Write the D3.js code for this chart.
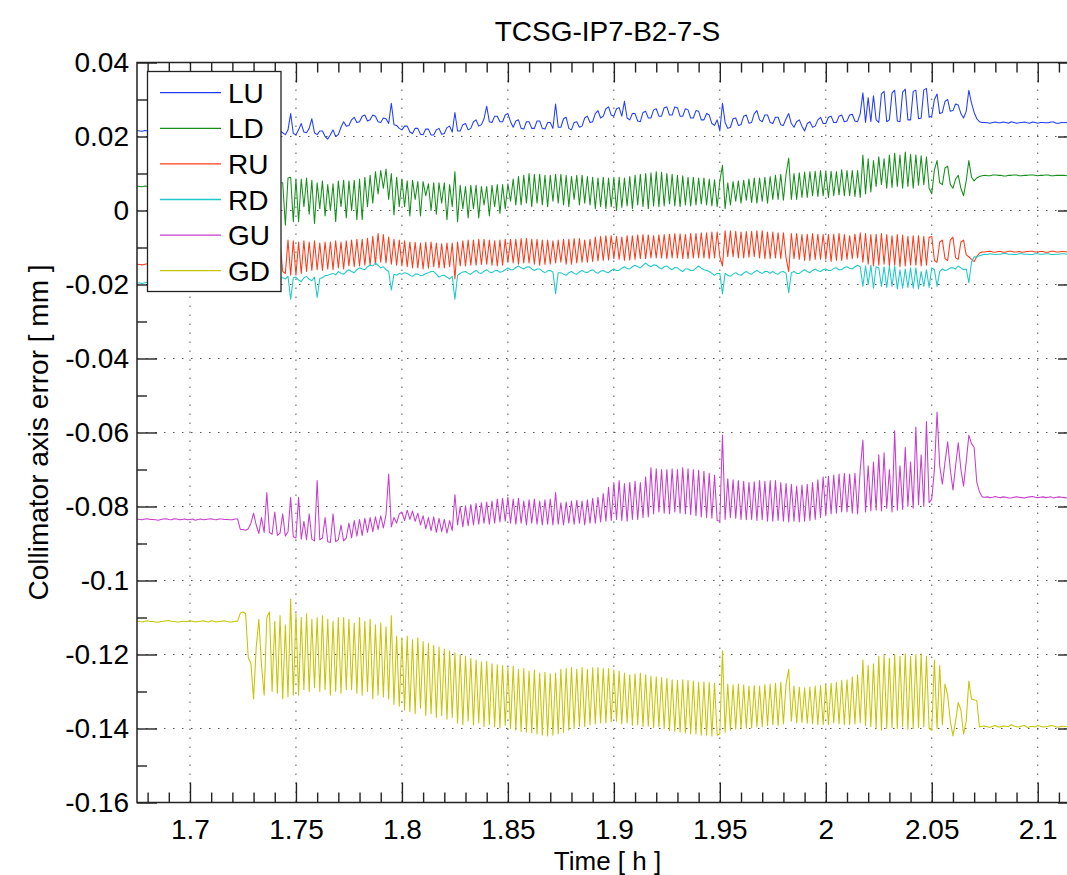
<!DOCTYPE html>
<html><head><meta charset="utf-8">
<script src="https://cdn.jsdelivr.net/npm/d3@7"></script>
<style>body{margin:0;background:#fff;overflow:hidden} text{font-family:"Liberation Sans",Arial,Helvetica,sans-serif}</style>
</head><body><svg id="c" width="1067" height="875"></svg>
<script>
const title = "TCSG-IP7-B2-7-S";
const xLabel = "Time [ h ]";
const yLabel = "Collimator axis error [ mm ]";
const seriesNames = ["LU","LD","RU","RD","GU","GD"];
const seriesColors = ["#1f3cff","#14901a","#ff3a18","#1ec8c8","#c83ccd","#c8c400"];
// regular sampling grid of the readings (hours)
const sampleStart = 1.675, sampleStep = 0.00125;

const LU = [
0.0216,0.0215,0.0214,0.0216,0.0215,0.0214,0.0217,0.0215,0.0214,0.0216,0.0216,0.0214,0.0215,0.0216,0.0214,0.0215,0.0216,0.0214,0.0215,0.0216,
0.0215,0.0214,0.0216,0.0215,0.0214,0.0216,0.0215,0.0214,0.0216,0.0215,0.0214,0.0216,0.0215,0.0214,0.0216,0.0215,0.0215,0.0214,0.0214,0.0216,
0.0210,0.0218,0.0225,0.0212,0.0205,0.0220,0.0230,0.0210,0.0208,0.0222,0.0222,0.0208,0.0205,0.0218,0.0215,0.0210,0.0205,0.0218,0.0262,0.0208,
0.0205,0.0218,0.0235,0.0212,0.0210,0.0222,0.0248,0.0210,0.0205,0.0215,0.0215,0.0200,0.0193,0.0205,0.0218,0.0200,0.0205,0.0225,0.0240,0.0228,
0.0230,0.0245,0.0252,0.0238,0.0240,0.0255,0.0258,0.0242,0.0245,0.0258,0.0255,0.0240,0.0238,0.0250,0.0248,0.0235,0.0290,0.0232,0.0230,0.0222,
0.0218,0.0228,0.0228,0.0212,0.0208,0.0222,0.0222,0.0206,0.0205,0.0220,0.0220,0.0204,0.0204,0.0218,0.0222,0.0206,0.0208,0.0224,0.0228,0.0212,
0.0265,0.0215,0.0215,0.0232,0.0235,0.0218,0.0222,0.0240,0.0245,0.0228,0.0232,0.0248,0.0282,0.0240,0.0238,0.0255,0.0255,0.0240,0.0240,0.0258,
0.0262,0.0240,0.0225,0.0242,0.0245,0.0222,0.0220,0.0240,0.0240,0.0222,0.0222,0.0242,0.0242,0.0222,0.0220,0.0238,0.0238,0.0222,0.0288,0.0225,
0.0225,0.0248,0.0252,0.0222,0.0218,0.0238,0.0240,0.0225,0.0228,0.0250,0.0255,0.0238,0.0240,0.0262,0.0270,0.0250,0.0255,0.0275,0.0280,0.0258,
0.0255,0.0275,0.0278,0.0255,0.0295,0.0250,0.0245,0.0262,0.0262,0.0242,0.0240,0.0265,0.0268,0.0250,0.0250,0.0272,0.0275,0.0255,0.0255,0.0278,
0.0280,0.0258,0.0258,0.0280,0.0278,0.0255,0.0255,0.0275,0.0272,0.0250,0.0250,0.0270,0.0268,0.0245,0.0245,0.0262,0.0258,0.0235,0.0230,0.0245,
0.0215,0.0290,0.0238,0.0222,0.0225,0.0248,0.0250,0.0230,0.0232,0.0255,0.0258,0.0236,0.0238,0.0262,0.0270,0.0245,0.0240,0.0258,0.0258,0.0238,
0.0235,0.0252,0.0252,0.0232,0.0230,0.0248,0.0262,0.0235,0.0225,0.0240,0.0245,0.0228,0.0215,0.0235,0.0240,0.0225,0.0228,0.0245,0.0252,0.0235,
0.0235,0.0252,0.0255,0.0238,0.0238,0.0255,0.0258,0.0240,0.0242,0.0258,0.0260,0.0242,0.0240,0.0262,0.0318,0.0238,0.0305,0.0240,0.0310,0.0245,
0.0238,0.0315,0.0322,0.0240,0.0245,0.0318,0.0325,0.0242,0.0240,0.0320,0.0328,0.0245,0.0245,0.0322,0.0325,0.0248,0.0250,0.0326,0.0330,0.0252,
0.0255,0.0300,0.0315,0.0262,0.0265,0.0295,0.0300,0.0268,0.0270,0.0288,0.0285,0.0262,0.0250,0.0268,0.0325,0.0290,0.0265,0.0248,0.0240,0.0238,
0.0238,0.0237,0.0236,0.0238,0.0239,0.0237,0.0237,0.0239,0.0238,0.0236,0.0240,0.0238,0.0236,0.0237,0.0238,0.0239,0.0237,0.0236,0.0239,0.0238,
0.0236,0.0238,0.0238,0.0237,0.0237,0.0239,0.0239,0.0236,0.0236,0.0238,0.0238,0.0237,0.0237,0.0238,0.0238,0.0237];

const LD = [
0.0066,0.0065,0.0064,0.0066,0.0065,0.0064,0.0067,0.0065,0.0064,0.0066,0.0066,0.0064,0.0065,0.0066,0.0064,0.0065,0.0066,0.0064,0.0065,0.0066,
0.0065,0.0064,0.0066,0.0065,0.0064,0.0066,0.0065,0.0064,0.0066,0.0065,0.0065,0.0066,0.0064,0.0065,0.0066,0.0064,0.0065,0.0066,0.0064,0.0065,
0.0060,0.0020,0.0080,0.0000,0.0010,0.0080,0.0085,0.0000,0.0000,0.0080,0.0080,-0.0010,-0.0010,0.0075,0.0075,0.0075,-0.0040,0.0088,0.0090,-0.0030,
0.0085,-0.0030,0.0085,0.0010,0.0088,-0.0010,0.0082,-0.0035,0.0075,0.0005,0.0080,-0.0015,0.0070,0.0000,0.0072,-0.0030,0.0080,0.0010,0.0082,-0.0020,
0.0080,0.0000,0.0082,-0.0025,0.0085,-0.0025,0.0090,0.0010,0.0095,0.0020,0.0105,0.0045,0.0108,0.0060,0.0112,0.0030,0.0100,-0.0012,0.0090,0.0010,
0.0085,0.0010,0.0080,-0.0015,0.0082,0.0030,0.0078,-0.0015,0.0078,0.0040,0.0072,0.0000,0.0075,-0.0010,0.0075,0.0020,0.0075,-0.0025,0.0070,0.0010,
0.0105,-0.0030,0.0068,0.0005,0.0065,-0.0020,0.0068,0.0005,0.0068,-0.0020,0.0065,0.0015,0.0065,-0.0015,0.0068,0.0010,0.0070,-0.0008,0.0070,0.0005,
0.0072,0.0025,0.0085,0.0015,0.0092,0.0015,0.0095,0.0020,0.0100,0.0010,0.0098,0.0020,0.0098,0.0015,0.0095,0.0010,0.0095,0.0025,0.0098,0.0020,
0.0098,0.0015,0.0095,0.0010,0.0092,0.0030,0.0095,0.0015,0.0095,0.0020,0.0092,0.0015,0.0090,0.0005,0.0088,0.0010,0.0090,0.0005,0.0088,0.0010,
0.0090,0.0000,0.0090,0.0008,0.0088,0.0012,0.0092,0.0005,0.0095,0.0015,0.0098,0.0010,0.0100,0.0005,0.0102,0.0012,0.0105,0.0010,0.0103,0.0012,
0.0100,0.0018,0.0098,0.0012,0.0095,0.0010,0.0094,0.0015,0.0090,0.0012,0.0090,0.0015,0.0088,0.0018,0.0088,0.0015,0.0085,0.0012,0.0083,0.0010,
0.0080,0.0122,0.0005,0.0075,0.0015,0.0078,0.0025,0.0080,0.0020,0.0082,0.0028,0.0085,0.0022,0.0088,0.0020,0.0088,0.0025,0.0090,0.0020,0.0092,
0.0030,0.0095,0.0030,0.0098,0.0028,0.0098,0.0142,0.0030,0.0100,0.0030,0.0102,0.0035,0.0104,0.0035,0.0105,0.0040,0.0106,0.0038,0.0108,0.0040,
0.0105,0.0035,0.0106,0.0040,0.0105,0.0042,0.0110,0.0040,0.0108,0.0040,0.0108,0.0038,0.0108,0.0035,0.0150,0.0045,0.0140,0.0050,0.0135,0.0065,
0.0145,0.0070,0.0140,0.0060,0.0150,0.0062,0.0155,0.0065,0.0150,0.0060,0.0158,0.0065,0.0152,0.0060,0.0150,0.0068,0.0148,0.0070,0.0145,0.0060,
0.0045,0.0110,0.0135,0.0075,0.0070,0.0115,0.0120,0.0070,0.0060,0.0085,0.0095,0.0060,0.0040,0.0080,0.0135,0.0090,0.0080,0.0088,0.0092,0.0094,
0.0095,0.0094,0.0094,0.0096,0.0096,0.0095,0.0095,0.0093,0.0093,0.0095,0.0095,0.0096,0.0096,0.0094,0.0094,0.0095,0.0095,0.0096,0.0096,0.0095,
0.0094,0.0095,0.0095,0.0096,0.0096,0.0094,0.0094,0.0095,0.0095,0.0095,0.0095,0.0094,0.0094,0.0096,0.0096,0.0095];

const RU = [
-0.0145,-0.0146,-0.0147,-0.0145,-0.0144,-0.0146,-0.0146,-0.0145,-0.0145,-0.0147,-0.0147,-0.0145,-0.0144,-0.0146,-0.0145,-0.0144,-0.0146,-0.0145,-0.0145,-0.0146,
-0.0144,-0.0145,-0.0146,-0.0145,-0.0145,-0.0147,-0.0147,-0.0145,-0.0145,-0.0144,-0.0144,-0.0146,-0.0146,-0.0145,-0.0145,-0.0147,-0.0147,-0.0146,-0.0145,-0.0145,
-0.0120,-0.0160,-0.0090,-0.0165,-0.0085,-0.0170,-0.0080,-0.0165,-0.0090,-0.0170,-0.0080,-0.0172,-0.0082,-0.0170,-0.0085,-0.0165,-0.0170,-0.0080,-0.0175,-0.0082,
-0.0175,-0.0085,-0.0170,-0.0082,-0.0165,-0.0085,-0.0162,-0.0082,-0.0160,-0.0088,-0.0162,-0.0085,-0.0158,-0.0085,-0.0160,-0.0082,-0.0155,-0.0085,-0.0158,-0.0082,
-0.0150,-0.0080,-0.0152,-0.0078,-0.0150,-0.0078,-0.0148,-0.0075,-0.0148,-0.0070,-0.0145,-0.0062,-0.0140,-0.0065,-0.0142,-0.0072,-0.0145,-0.0078,-0.0148,-0.0080,
-0.0150,-0.0082,-0.0152,-0.0085,-0.0155,-0.0086,-0.0155,-0.0088,-0.0158,-0.0086,-0.0156,-0.0085,-0.0152,-0.0088,-0.0155,-0.0090,-0.0155,-0.0088,-0.0152,-0.0088,
-0.0185,-0.0085,-0.0150,-0.0082,-0.0150,-0.0080,-0.0148,-0.0080,-0.0148,-0.0078,-0.0146,-0.0078,-0.0145,-0.0080,-0.0148,-0.0082,-0.0150,-0.0080,-0.0148,-0.0078,
-0.0140,-0.0078,-0.0142,-0.0078,-0.0145,-0.0076,-0.0142,-0.0075,-0.0142,-0.0078,-0.0145,-0.0078,-0.0148,-0.0080,-0.0146,-0.0080,-0.0145,-0.0082,-0.0142,-0.0080,
-0.0140,-0.0078,-0.0145,-0.0078,-0.0145,-0.0076,-0.0142,-0.0076,-0.0140,-0.0080,-0.0140,-0.0078,-0.0138,-0.0072,-0.0136,-0.0070,-0.0135,-0.0068,-0.0134,-0.0068,
-0.0130,-0.0070,-0.0132,-0.0072,-0.0135,-0.0068,-0.0134,-0.0068,-0.0132,-0.0066,-0.0130,-0.0065,-0.0130,-0.0066,-0.0128,-0.0068,-0.0128,-0.0066,-0.0128,-0.0065,
-0.0130,-0.0064,-0.0128,-0.0062,-0.0128,-0.0063,-0.0130,-0.0065,-0.0130,-0.0062,-0.0128,-0.0062,-0.0128,-0.0060,-0.0128,-0.0060,-0.0130,-0.0058,-0.0128,-0.0058,
-0.0125,-0.0150,-0.0055,-0.0125,-0.0055,-0.0125,-0.0056,-0.0128,-0.0058,-0.0128,-0.0057,-0.0126,-0.0056,-0.0125,-0.0055,-0.0128,-0.0055,-0.0130,-0.0058,-0.0130,
-0.0058,-0.0128,-0.0060,-0.0130,-0.0060,-0.0128,-0.0165,-0.0062,-0.0130,-0.0062,-0.0132,-0.0065,-0.0135,-0.0064,-0.0135,-0.0062,-0.0132,-0.0064,-0.0132,-0.0065,
-0.0132,-0.0065,-0.0138,-0.0064,-0.0135,-0.0062,-0.0135,-0.0065,-0.0132,-0.0068,-0.0130,-0.0064,-0.0128,-0.0060,-0.0140,-0.0062,-0.0145,-0.0065,-0.0150,-0.0064,
-0.0148,-0.0062,-0.0145,-0.0065,-0.0150,-0.0068,-0.0148,-0.0065,-0.0152,-0.0066,-0.0150,-0.0070,-0.0148,-0.0068,-0.0148,-0.0068,-0.0150,-0.0070,-0.0148,-0.0072,
-0.0070,-0.0135,-0.0140,-0.0085,-0.0080,-0.0130,-0.0135,-0.0080,-0.0072,-0.0128,-0.0132,-0.0085,-0.0080,-0.0120,-0.0125,-0.0132,-0.0138,-0.0125,-0.0115,-0.0112,
-0.0112,-0.0111,-0.0110,-0.0112,-0.0113,-0.0111,-0.0111,-0.0113,-0.0112,-0.0110,-0.0110,-0.0112,-0.0112,-0.0111,-0.0113,-0.0112,-0.0111,-0.0110,-0.0110,-0.0112,
-0.0112,-0.0111,-0.0111,-0.0113,-0.0113,-0.0110,-0.0110,-0.0112,-0.0112,-0.0111,-0.0111,-0.0112,-0.0112,-0.0111,-0.0111,-0.0110];

const RD = [
-0.0195,-0.0196,-0.0197,-0.0195,-0.0194,-0.0196,-0.0196,-0.0195,-0.0195,-0.0197,-0.0197,-0.0195,-0.0194,-0.0196,-0.0195,-0.0194,-0.0196,-0.0195,-0.0195,-0.0196,
-0.0194,-0.0195,-0.0196,-0.0195,-0.0195,-0.0197,-0.0197,-0.0195,-0.0195,-0.0194,-0.0194,-0.0196,-0.0196,-0.0195,-0.0195,-0.0197,-0.0197,-0.0196,-0.0195,-0.0195,
-0.0190,-0.0186,-0.0185,-0.0190,-0.0195,-0.0188,-0.0180,-0.0186,-0.0192,-0.0185,-0.0185,-0.0190,-0.0190,-0.0184,-0.0182,-0.0182,-0.0185,-0.0178,-0.0240,-0.0182,
-0.0180,-0.0188,-0.0192,-0.0182,-0.0178,-0.0186,-0.0190,-0.0180,-0.0235,-0.0184,-0.0182,-0.0176,-0.0175,-0.0172,-0.0170,-0.0174,-0.0165,-0.0170,-0.0172,-0.0165,
-0.0160,-0.0165,-0.0168,-0.0160,-0.0155,-0.0158,-0.0160,-0.0152,-0.0148,-0.0150,-0.0142,-0.0148,-0.0155,-0.0152,-0.0160,-0.0165,-0.0215,-0.0172,-0.0175,-0.0170,
-0.0172,-0.0168,-0.0170,-0.0175,-0.0178,-0.0172,-0.0172,-0.0176,-0.0175,-0.0170,-0.0168,-0.0165,-0.0165,-0.0172,-0.0180,-0.0176,-0.0175,-0.0180,-0.0185,-0.0178,
-0.0240,-0.0175,-0.0170,-0.0166,-0.0165,-0.0170,-0.0172,-0.0166,-0.0162,-0.0168,-0.0170,-0.0164,-0.0160,-0.0166,-0.0168,-0.0163,-0.0162,-0.0167,-0.0165,-0.0160,
-0.0155,-0.0160,-0.0160,-0.0154,-0.0150,-0.0155,-0.0158,-0.0153,-0.0152,-0.0158,-0.0162,-0.0158,-0.0158,-0.0164,-0.0168,-0.0163,-0.0162,-0.0166,-0.0225,-0.0168,
-0.0168,-0.0172,-0.0175,-0.0168,-0.0165,-0.0170,-0.0172,-0.0166,-0.0162,-0.0166,-0.0168,-0.0163,-0.0160,-0.0166,-0.0170,-0.0164,-0.0162,-0.0166,-0.0168,-0.0162,
-0.0158,-0.0162,-0.0162,-0.0156,-0.0152,-0.0157,-0.0158,-0.0152,-0.0148,-0.0152,-0.0155,-0.0148,-0.0142,-0.0148,-0.0152,-0.0147,-0.0148,-0.0154,-0.0158,-0.0152,
-0.0150,-0.0156,-0.0160,-0.0154,-0.0155,-0.0161,-0.0165,-0.0158,-0.0158,-0.0162,-0.0162,-0.0156,-0.0150,-0.0156,-0.0160,-0.0162,-0.0165,-0.0170,-0.0175,-0.0170,
-0.0170,-0.0225,-0.0170,-0.0175,-0.0178,-0.0172,-0.0168,-0.0173,-0.0175,-0.0169,-0.0165,-0.0170,-0.0172,-0.0166,-0.0162,-0.0167,-0.0170,-0.0165,-0.0165,-0.0170,
-0.0165,-0.0170,-0.0172,-0.0166,-0.0165,-0.0170,-0.0222,-0.0168,-0.0165,-0.0170,-0.0170,-0.0164,-0.0160,-0.0165,-0.0168,-0.0162,-0.0158,-0.0163,-0.0165,-0.0160,
-0.0158,-0.0162,-0.0162,-0.0157,-0.0155,-0.0160,-0.0160,-0.0154,-0.0152,-0.0156,-0.0158,-0.0152,-0.0148,-0.0152,-0.0205,-0.0150,-0.0200,-0.0148,-0.0210,-0.0152,
-0.0155,-0.0205,-0.0152,-0.0208,-0.0150,-0.0205,-0.0150,-0.0212,-0.0160,-0.0210,-0.0158,-0.0208,-0.0155,-0.0210,-0.0155,-0.0212,-0.0165,-0.0205,-0.0160,-0.0208,
-0.0155,-0.0160,-0.0205,-0.0165,-0.0158,-0.0162,-0.0160,-0.0155,-0.0155,-0.0158,-0.0150,-0.0155,-0.0160,-0.0158,-0.0195,-0.0140,-0.0125,-0.0126,-0.0122,-0.0120,
-0.0118,-0.0119,-0.0117,-0.0118,-0.0119,-0.0118,-0.0118,-0.0116,-0.0116,-0.0118,-0.0118,-0.0119,-0.0119,-0.0117,-0.0117,-0.0118,-0.0118,-0.0119,-0.0119,-0.0117,
-0.0117,-0.0118,-0.0118,-0.0117,-0.0117,-0.0119,-0.0119,-0.0118,-0.0118,-0.0117,-0.0117,-0.0118,-0.0118,-0.0117,-0.0117,-0.0119];

const GU = [
-0.0834,-0.0835,-0.0836,-0.0834,-0.0833,-0.0835,-0.0835,-0.0836,-0.0837,-0.0835,-0.0834,-0.0833,-0.0835,-0.0836,-0.0833,-0.0834,-0.0836,-0.0835,-0.0834,-0.0836,
-0.0835,-0.0834,-0.0837,-0.0835,-0.0834,-0.0836,-0.0835,-0.0834,-0.0833,-0.0835,-0.0836,-0.0834,-0.0834,-0.0835,-0.0835,-0.0836,-0.0836,-0.0834,-0.0834,-0.0862,
-0.0862,-0.0864,-0.0860,-0.0845,-0.0818,-0.0850,-0.0873,-0.0830,-0.0870,-0.0762,-0.0870,-0.0875,-0.0815,-0.0878,-0.0872,-0.0820,-0.0880,-0.0868,-0.0775,-0.0882,
-0.0885,-0.0775,-0.0888,-0.0840,-0.0890,-0.0820,-0.0888,-0.0893,-0.0730,-0.0890,-0.0885,-0.0830,-0.0895,-0.0897,-0.0820,-0.0895,-0.0890,-0.0850,-0.0893,-0.0885,
-0.0845,-0.0885,-0.0838,-0.0880,-0.0835,-0.0878,-0.0832,-0.0870,-0.0830,-0.0868,-0.0828,-0.0862,-0.0825,-0.0858,-0.0822,-0.0712,-0.0855,-0.0830,-0.0845,-0.0820,
-0.0815,-0.0838,-0.0810,-0.0835,-0.0812,-0.0840,-0.0818,-0.0850,-0.0825,-0.0860,-0.0830,-0.0865,-0.0828,-0.0870,-0.0832,-0.0868,-0.0835,-0.0872,-0.0838,-0.0865,
-0.0768,-0.0850,-0.0800,-0.0855,-0.0798,-0.0852,-0.0795,-0.0850,-0.0792,-0.0848,-0.0790,-0.0845,-0.0788,-0.0848,-0.0785,-0.0845,-0.0780,-0.0842,-0.0778,-0.0840,
-0.0775,-0.0845,-0.0780,-0.0848,-0.0778,-0.0845,-0.0785,-0.0850,-0.0782,-0.0845,-0.0780,-0.0848,-0.0785,-0.0850,-0.0782,-0.0848,-0.0780,-0.0850,-0.0762,-0.0848,
-0.0790,-0.0850,-0.0788,-0.0845,-0.0785,-0.0848,-0.0783,-0.0845,-0.0785,-0.0850,-0.0782,-0.0845,-0.0778,-0.0845,-0.0775,-0.0842,-0.0765,-0.0840,-0.0748,-0.0838,
-0.0735,-0.0835,-0.0730,-0.0838,-0.0738,-0.0840,-0.0735,-0.0835,-0.0732,-0.0835,-0.0735,-0.0830,-0.0720,-0.0828,-0.0695,-0.0820,-0.0698,-0.0815,-0.0700,-0.0818,
-0.0700,-0.0820,-0.0698,-0.0815,-0.0700,-0.0818,-0.0695,-0.0820,-0.0698,-0.0822,-0.0700,-0.0825,-0.0702,-0.0828,-0.0705,-0.0830,-0.0710,-0.0832,-0.0715,-0.0838,
-0.0840,-0.0607,-0.0835,-0.0725,-0.0830,-0.0728,-0.0832,-0.0730,-0.0835,-0.0732,-0.0836,-0.0735,-0.0835,-0.0733,-0.0838,-0.0730,-0.0836,-0.0732,-0.0840,-0.0730,
-0.0840,-0.0730,-0.0838,-0.0735,-0.0840,-0.0738,-0.0842,-0.0740,-0.0840,-0.0745,-0.0842,-0.0742,-0.0840,-0.0740,-0.0838,-0.0735,-0.0835,-0.0728,-0.0830,-0.0720,
-0.0825,-0.0718,-0.0820,-0.0715,-0.0818,-0.0712,-0.0815,-0.0710,-0.0815,-0.0712,-0.0818,-0.0710,-0.0820,-0.0700,-0.0620,-0.0815,-0.0690,-0.0812,-0.0680,-0.0810,
-0.0660,-0.0812,-0.0655,-0.0805,-0.0700,-0.0815,-0.0595,-0.0810,-0.0690,-0.0808,-0.0640,-0.0800,-0.0680,-0.0805,-0.0585,-0.0795,-0.0660,-0.0800,-0.0570,-0.0790,
-0.0780,-0.0700,-0.0545,-0.0690,-0.0740,-0.0680,-0.0625,-0.0700,-0.0755,-0.0690,-0.0628,-0.0700,-0.0745,-0.0680,-0.0607,-0.0630,-0.0640,-0.0735,-0.0760,-0.0774,
-0.0775,-0.0774,-0.0776,-0.0775,-0.0773,-0.0775,-0.0776,-0.0774,-0.0775,-0.0777,-0.0777,-0.0775,-0.0774,-0.0775,-0.0776,-0.0777,-0.0775,-0.0774,-0.0773,-0.0775,
-0.0776,-0.0775,-0.0774,-0.0776,-0.0775,-0.0774,-0.0777,-0.0775,-0.0774,-0.0775,-0.0776,-0.0777,-0.0775,-0.0776,-0.0774,-0.0775];

const GD = [
-0.1110,-0.1111,-0.1112,-0.1110,-0.1109,-0.1111,-0.1111,-0.1112,-0.1113,-0.1111,-0.1110,-0.1109,-0.1108,-0.1110,-0.1111,-0.1112,-0.1112,-0.1110,-0.1110,-0.1111,
-0.1109,-0.1110,-0.1112,-0.1111,-0.1110,-0.1109,-0.1111,-0.1112,-0.1109,-0.1110,-0.1112,-0.1111,-0.1110,-0.1109,-0.1111,-0.1112,-0.1112,-0.1110,-0.1110,-0.1088,
-0.1085,-0.1090,-0.1208,-0.1225,-0.1320,-0.1180,-0.1105,-0.1230,-0.1310,-0.1100,-0.1085,-0.1300,-0.1110,-0.1305,-0.1095,-0.1320,-0.1120,-0.1315,-0.1050,-0.1310,
-0.1090,-0.1310,-0.1100,-0.1295,-0.1090,-0.1300,-0.1105,-0.1290,-0.1100,-0.1300,-0.1095,-0.1295,-0.1105,-0.1310,-0.1110,-0.1300,-0.1100,-0.1305,-0.1100,-0.1295,
-0.1105,-0.1295,-0.1115,-0.1305,-0.1100,-0.1310,-0.1110,-0.1300,-0.1105,-0.1320,-0.1120,-0.1310,-0.1115,-0.1315,-0.1125,-0.1320,-0.1095,-0.1335,-0.1150,-0.1340,
-0.1155,-0.1350,-0.1150,-0.1355,-0.1160,-0.1360,-0.1155,-0.1345,-0.1165,-0.1365,-0.1170,-0.1360,-0.1175,-0.1370,-0.1180,-0.1365,-0.1185,-0.1375,-0.1190,-0.1370,
-0.1195,-0.1385,-0.1200,-0.1390,-0.1205,-0.1380,-0.1210,-0.1390,-0.1215,-0.1385,-0.1220,-0.1395,-0.1218,-0.1390,-0.1225,-0.1395,-0.1228,-0.1398,-0.1230,-0.1392,
-0.1235,-0.1400,-0.1232,-0.1405,-0.1240,-0.1408,-0.1238,-0.1410,-0.1245,-0.1412,-0.1242,-0.1415,-0.1250,-0.1418,-0.1248,-0.1420,-0.1252,-0.1418,-0.1250,-0.1415,
-0.1240,-0.1410,-0.1238,-0.1405,-0.1235,-0.1400,-0.1240,-0.1395,-0.1235,-0.1395,-0.1240,-0.1390,-0.1236,-0.1388,-0.1235,-0.1385,-0.1238,-0.1385,-0.1238,-0.1382,
-0.1242,-0.1380,-0.1245,-0.1388,-0.1250,-0.1385,-0.1255,-0.1392,-0.1252,-0.1390,-0.1250,-0.1395,-0.1255,-0.1394,-0.1258,-0.1398,-0.1260,-0.1396,-0.1262,-0.1400,
-0.1265,-0.1405,-0.1268,-0.1408,-0.1270,-0.1410,-0.1268,-0.1412,-0.1270,-0.1415,-0.1272,-0.1415,-0.1275,-0.1418,-0.1274,-0.1418,-0.1276,-0.1420,-0.1278,-0.1418,
-0.1415,-0.1190,-0.1410,-0.1280,-0.1405,-0.1282,-0.1402,-0.1280,-0.1400,-0.1282,-0.1400,-0.1285,-0.1398,-0.1284,-0.1396,-0.1285,-0.1395,-0.1282,-0.1392,-0.1280,
-0.1390,-0.1278,-0.1392,-0.1275,-0.1388,-0.1280,-0.1240,-0.1380,-0.1285,-0.1385,-0.1288,-0.1384,-0.1290,-0.1386,-0.1288,-0.1388,-0.1285,-0.1390,-0.1284,-0.1390,
-0.1280,-0.1390,-0.1278,-0.1385,-0.1275,-0.1388,-0.1270,-0.1390,-0.1268,-0.1390,-0.1260,-0.1388,-0.1255,-0.1385,-0.1215,-0.1392,-0.1230,-0.1395,-0.1225,-0.1400,
-0.1205,-0.1405,-0.1200,-0.1400,-0.1210,-0.1398,-0.1200,-0.1400,-0.1205,-0.1395,-0.1198,-0.1402,-0.1205,-0.1400,-0.1200,-0.1398,-0.1198,-0.1395,-0.1205,-0.1400,
-0.1405,-0.1215,-0.1400,-0.1230,-0.1390,-0.1280,-0.1310,-0.1380,-0.1420,-0.1380,-0.1330,-0.1350,-0.1415,-0.1380,-0.1272,-0.1320,-0.1322,-0.1325,-0.1396,-0.1394,
-0.1393,-0.1395,-0.1397,-0.1394,-0.1392,-0.1396,-0.1396,-0.1393,-0.1394,-0.1395,-0.1390,-0.1393,-0.1395,-0.1396,-0.1393,-0.1392,-0.1397,-0.1395,-0.1394,-0.1396,
-0.1392,-0.1394,-0.1396,-0.1395,-0.1394,-0.1392,-0.1393,-0.1396,-0.1396,-0.1394,-0.1394,-0.1395,-0.1395,-0.1393,-0.1393,-0.1394];

const seriesValues = [LU, LD, RU, RD, GU, GD];

const xDomain = [1.675, 2.119];
const yDomain = [-0.16, 0.04];
const xTicks = [1.7, 1.75, 1.8, 1.85, 1.9, 1.95, 2.0, 2.05, 2.1];
const xTickLabels = ["1.7", "1.75", "1.8", "1.85", "1.9", "1.95", "2", "2.05", "2.1"];
const xMinorTicks = [1.68,1.69,1.71,1.72,1.73,1.74,1.76,1.77,1.78,1.79,1.81,1.82,1.83,1.84,1.86,1.87,1.88,1.89,1.91,1.92,1.93,1.94,1.96,1.97,1.98,1.99,2.01,2.02,2.03,2.04,2.06,2.07,2.08,2.09,2.11];
const yTicks = [0.04, 0.02, 0, -0.02, -0.04, -0.06, -0.08, -0.1, -0.12, -0.14, -0.16];
const yTickLabels = ["0.04", "0.02", "0", "-0.02", "-0.04", "-0.06", "-0.08", "-0.1", "-0.12", "-0.14", "-0.16"];
const yMinorTicks = [0.03, 0.01, -0.01, -0.03, -0.05, -0.07, -0.09, -0.11, -0.13, -0.15];

// ---- layout ----
const L = 137, R = 1078, T = 62.5, B = 802.5;
const svg = d3.select("#c");
const x = d3.scaleLinear().domain(xDomain).range([L, R]);
const y = d3.scaleLinear().domain(yDomain).range([B, T]);
const FONT = 28;

svg.append("defs").append("clipPath").attr("id", "clip")
  .append("rect").attr("x", L).attr("y", T).attr("width", R - L).attr("height", B - T);

// grid
const grid = svg.append("g").attr("stroke", "#555").attr("stroke-width", 1).attr("stroke-dasharray", "1.5,7.5");
grid.selectAll(".gx").data(xTicks).join("line")
  .attr("x1", d => x(d)).attr("x2", d => x(d)).attr("y1", T).attr("y2", B);
grid.selectAll(".gy").data(yTicks.slice(1, -1)).join("line")
  .attr("y1", d => y(d)).attr("y2", d => y(d)).attr("x1", L).attr("x2", R);

// lines
const lineGen = d3.line().x((d, i) => x(sampleStart + i * sampleStep)).y(d => y(d));
const plot = svg.append("g").attr("clip-path", "url(#clip)");
seriesValues.forEach((vals, k) => {
  plot.append("path").datum(vals).attr("fill", "none")
    .attr("stroke", seriesColors[k]).attr("stroke-width", 1.05)
    .attr("stroke-linejoin", "round").attr("d", lineGen);
});

// axes
function styleAxis(g) {
  g.select(".domain").remove();
  g.selectAll(".tick line").attr("stroke", "#222").attr("stroke-width", 1.4);
  g.selectAll(".tick text").attr("fill", "#000").style("font-size", FONT + "px")
    .style("font-family", '"Liberation Sans",Arial,Helvetica,sans-serif');
}
const xb = svg.append("g").attr("transform", `translate(0,${B})`)
  .call(d3.axisBottom(x).tickValues(xTicks).tickSizeInner(-20).tickSizeOuter(0).tickPadding(17)
    .tickFormat((d, i) => xTickLabels[i]));
styleAxis(xb);
const xbm = svg.append("g").attr("transform", `translate(0,${B})`)
  .call(d3.axisBottom(x).tickValues(xMinorTicks).tickSizeInner(-10).tickSizeOuter(0).tickFormat(""));
styleAxis(xbm);
const xt = svg.append("g").attr("transform", `translate(0,${T})`)
  .call(d3.axisTop(x).tickValues(xTicks).tickSizeInner(-20).tickSizeOuter(0).tickFormat(""));
styleAxis(xt);
const xtm = svg.append("g").attr("transform", `translate(0,${T})`)
  .call(d3.axisTop(x).tickValues(xMinorTicks).tickSizeInner(-10).tickSizeOuter(0).tickFormat(""));
styleAxis(xtm);
const yl = svg.append("g").attr("transform", `translate(${L},0)`)
  .call(d3.axisLeft(y).tickValues(yTicks).tickSizeInner(-20).tickSizeOuter(0).tickPadding(8)
    .tickFormat((d, i) => yTickLabels[i]));
styleAxis(yl);
const ylm = svg.append("g").attr("transform", `translate(${L},0)`)
  .call(d3.axisLeft(y).tickValues(yMinorTicks).tickSizeInner(-10).tickSizeOuter(0).tickFormat(""));
styleAxis(ylm);
const yr = svg.append("g").attr("transform", `translate(${R},0)`)
  .call(d3.axisRight(y).tickValues(yTicks).tickSizeInner(-20).tickSizeOuter(0).tickFormat(""));
styleAxis(yr);
const yrm = svg.append("g").attr("transform", `translate(${R},0)`)
  .call(d3.axisRight(y).tickValues(yMinorTicks).tickSizeInner(-10).tickSizeOuter(0).tickFormat(""));
styleAxis(yrm);

svg.append("rect").attr("x", L).attr("y", T).attr("width", R - L).attr("height", B - T)
  .attr("fill", "none").attr("stroke", "#222").attr("stroke-width", 1.5);

// titles
svg.append("text").attr("x", (L + R) / 2).attr("y", 41).attr("text-anchor", "middle")
  .style("font-size", FONT + "px").text(title);
svg.append("text").attr("x", (L + R) / 2).attr("y", 869.5).attr("text-anchor", "middle")
  .style("font-size", "26px").text(xLabel);
svg.append("text").attr("transform", `translate(48,${(T + B) / 2}) rotate(-90)`)
  .attr("text-anchor", "middle").style("font-size", FONT + "px").text(yLabel);

// legend
const lg = svg.append("g");
lg.append("rect").attr("x", 147.5).attr("y", 71.5).attr("width", 133.5).attr("height", 220)
  .attr("fill", "#fff").attr("stroke", "#222").attr("stroke-width", 1.3);
seriesNames.forEach((n, k) => {
  const cy = 92.7 + k * 35.6;
  lg.append("line").attr("x1", 160).attr("x2", 221).attr("y1", cy).attr("y2", cy)
    .attr("stroke", seriesColors[k]).attr("stroke-width", 1.3);
  lg.append("text").attr("x", 228).attr("y", cy + 10).style("font-size", FONT + "px").text(n);
});
</script></body></html>
